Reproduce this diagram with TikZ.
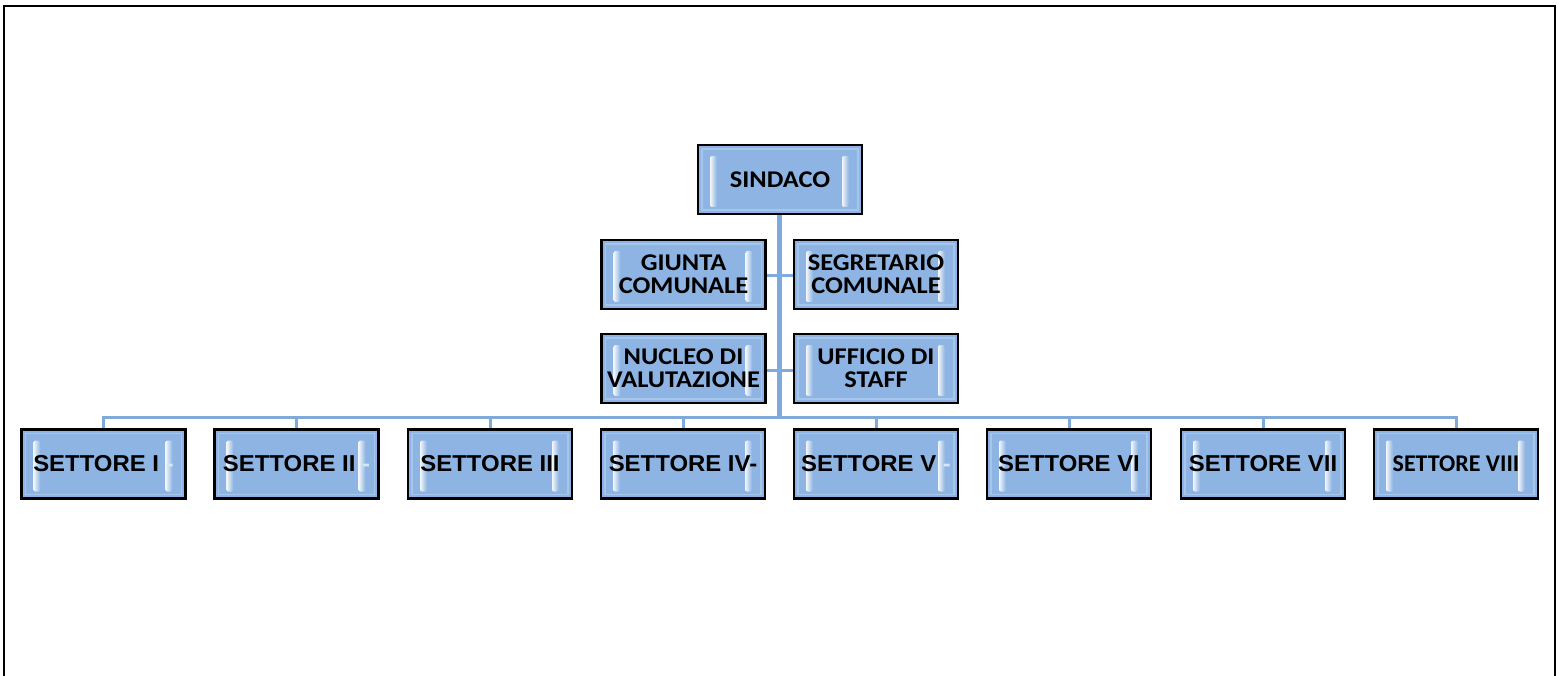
\documentclass[tikz,border=0pt]{standalone}
\usepackage{fontspec}
\newfontfamily\calfont{Carlito}
\newfontfamily\arialfont{Liberation Sans}
\usetikzlibrary{shadows}
\definecolor{boxblue}{HTML}{8DB4E2}
\definecolor{bevel}{HTML}{A6C6EC}
\definecolor{linkblue}{HTML}{7EAADC}
\definecolor{dashlight}{HTML}{D6E6F8}
\tikzset{
  orgbox/.style={draw=black, line width=2.5pt, fill=boxblue, minimum width=164, minimum height=69,
    inner sep=0pt, align=center, text=black,
    drop shadow={shadow xshift=1.2pt, shadow yshift=-1.2pt, fill=gray!80, opacity=0.4},
    path picture={
      \draw[bevel, line width=1.2pt]
        ([xshift=4pt,yshift=-4pt]path picture bounding box.north west) rectangle
        ([xshift=-4pt,yshift=4pt]path picture bounding box.south east);
      \fill[left color=white, right color=boxblue, rounded corners=2pt, opacity=0.9]
        ([xshift=12pt,yshift=-11pt]path picture bounding box.north west) rectangle
        ([xshift=19pt,yshift=7pt]path picture bounding box.south west);
      \fill[left color=white, right color=boxblue, rounded corners=2pt, opacity=0.9]
        ([xshift=-20pt,yshift=-11pt]path picture bounding box.north east) rectangle
        ([xshift=-13pt,yshift=7pt]path picture bounding box.south east);
    }},
  topfont/.style={font=\calfont\bfseries\fontsize{24}{27}\selectfont},
  secfont/.style={font=\arialfont\bfseries\fontsize{23}{26}\selectfont},
  link/.style={draw=linkblue, line width=3pt},
  trunk/.style={draw=linkblue, line width=5pt},
}
\newcommand{\wide}[1]{\scalebox{1.1}[1]{#1}}
\newcommand{\swide}[1]{\scalebox{1.04}[1]{#1}}
\begin{document}
\begin{tikzpicture}[x=1pt,y=-1pt]
\useasboundingbox (0,0) rectangle (1558,676);
\draw[black, line width=2.8pt] (4,700) -- (4,6) -- (1555,6) -- (1555,700);

% connectors (drawn first, under boxes)
\coordinate (bus) at (779,417);
\coordinate (sdtop) at (779,214);
\draw[trunk] (sdtop) -- (bus);
\coordinate (g) at (766,276);
\coordinate (sg) at (794,276);
\coordinate (n) at (766,370);
\coordinate (u) at (794,370);
\draw[link] (g) -- (sg);
\draw[link] (n) -- (u);
\coordinate (b1) at (103.5,417);
\coordinate (b8) at (1456,417);
\draw[link, line cap=rect] (b1) -- (b8);

% nodes
\node[orgbox, topfont] (sindaco) at (780,179.5) {\wide{SINDACO}};
\node[orgbox, topfont] (giunta) at (683.5,274.5) {\wide{GIUNTA}\\[-4pt]\wide{COMUNALE}};
\node[orgbox, topfont] (segr) at (876,274.5) {\wide{SEGRETARIO}\\[-4pt]\wide{COMUNALE}};
\node[orgbox, topfont] (nucleo) at (683.5,368.5) {\wide{NUCLEO DI}\\[-4pt]\wide{VALUTAZIONE}};
\node[orgbox, topfont] (ufficio) at (876,368.5) {\wide{UFFICIO DI}\\[-4pt]\wide{STAFF}};

\node[orgbox, secfont] (s1) at (103.5,464) {\swide{SETTORE I \textcolor{dashlight}{-}}};
\node[orgbox, secfont] (s2) at (296.5,464) {\swide{SETTORE II \textcolor{dashlight}{-}}};
\node[orgbox, secfont] (s3) at (490,464) {\swide{SETTORE III}};
\node[orgbox, secfont] (s4) at (683,464) {\swide{SETTORE IV-}};
\node[orgbox, secfont] (s5) at (876,464) {\swide{SETTORE V \textcolor{dashlight}{-}}};
\node[orgbox, secfont] (s6) at (1069,464) {\swide{SETTORE VI}};
\node[orgbox, secfont] (s7) at (1263,464) {\swide{SETTORE VII}};
\node[orgbox, font=\calfont\bfseries\fontsize{24}{27}\selectfont] (s8) at (1456,464) {\scalebox{1.0}[1]{SETTORE VIII}};

\foreach \n in {s1,s2,s3,s4,s5,s6,s7,s8} {\draw[link] (\n.north |- bus) -- (\n.north);}
\end{tikzpicture}
\end{document}
